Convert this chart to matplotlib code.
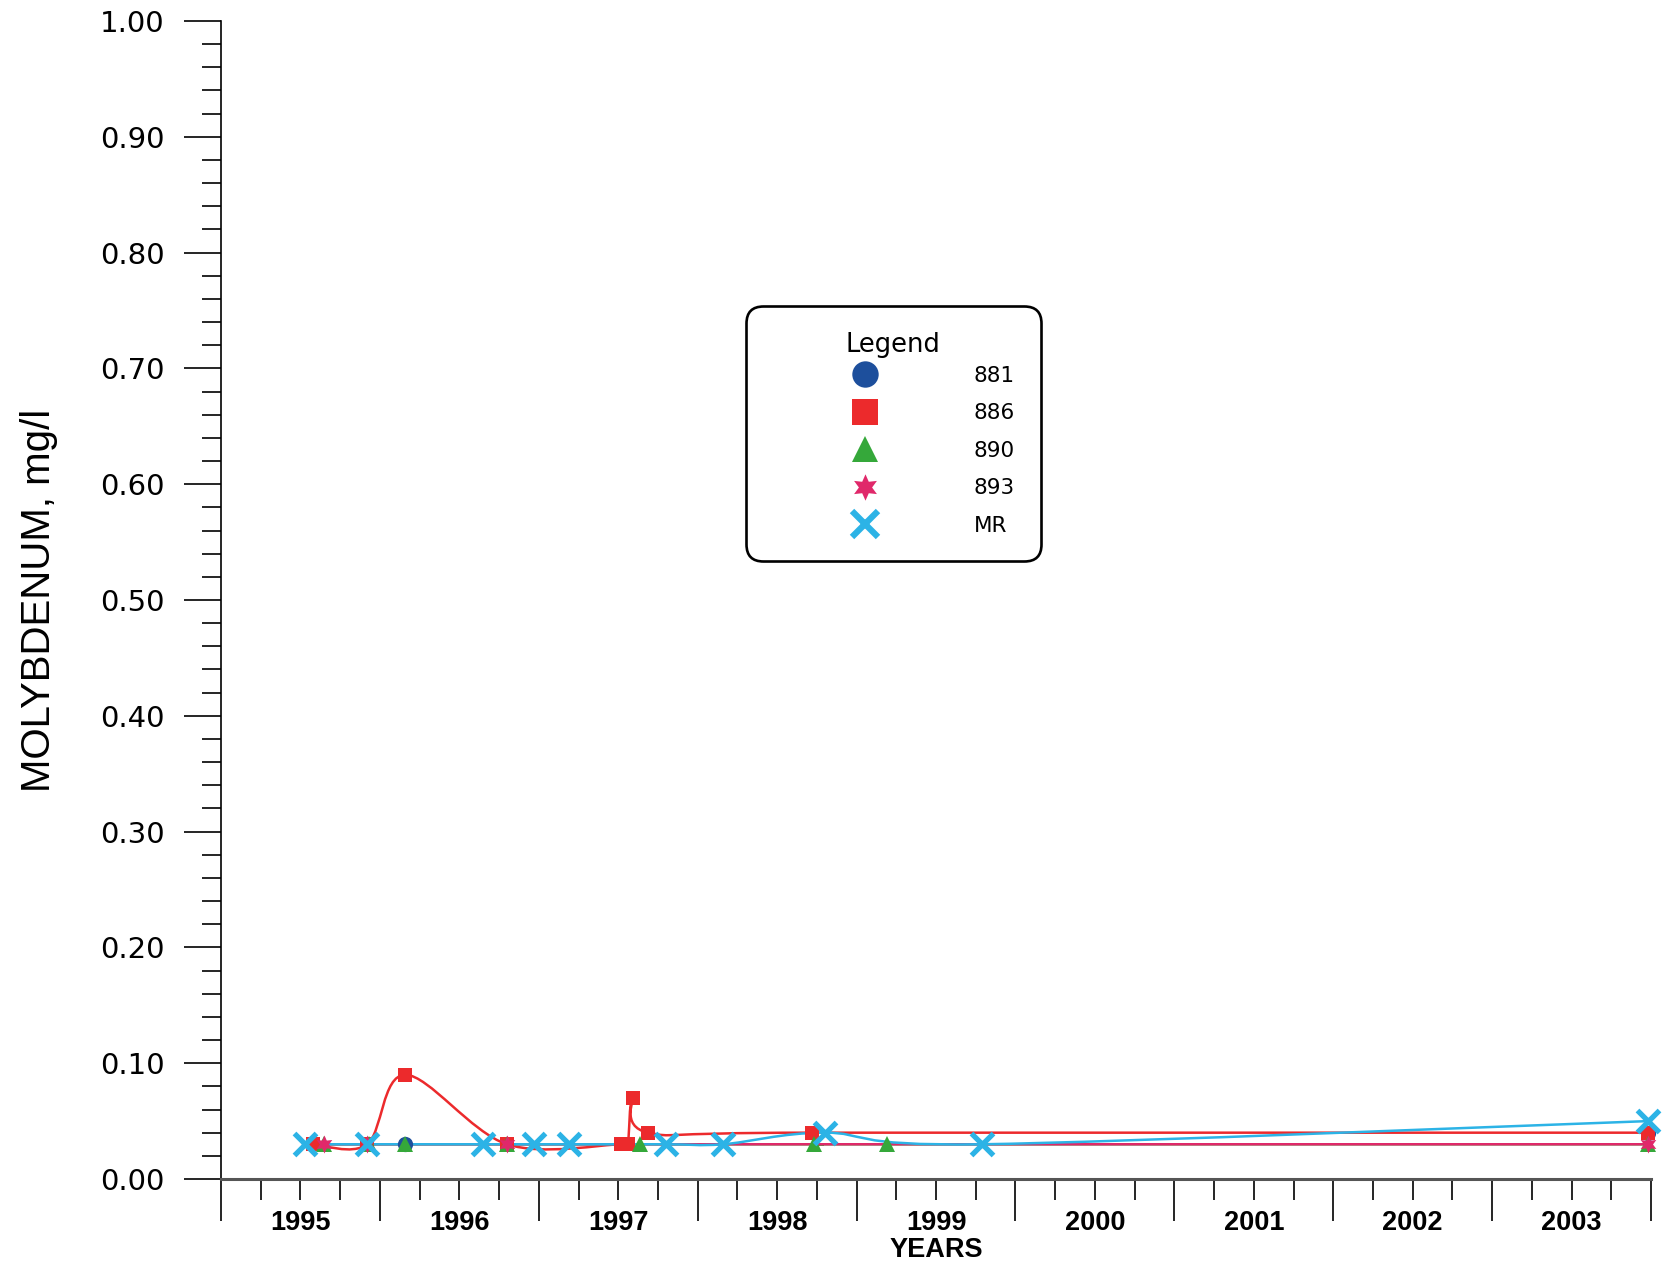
import numpy as np
import matplotlib
matplotlib.use("Agg")
import matplotlib.pyplot as plt
from matplotlib.path import Path
from matplotlib.patches import PathPatch
from matplotlib.lines import Line2D
from matplotlib.ticker import MultipleLocator, FuncFormatter, NullFormatter

# sample dates in decimal years, molybdenum in mg/l
x_881 = [1996.16, 2003.98]
y_881 = [0.03, 0.04]

x_886 = [1995.58, 1995.92, 1996.16, 1996.80, 1997.52, 1997.56, 1997.59, 1997.69, 1998.72, 2003.98]
y_886 = [0.03, 0.03, 0.09, 0.03, 0.03, 0.03, 0.07, 0.04, 0.04, 0.04]

x_890 = [1995.65, 1995.93, 1996.16, 1996.80, 1997.64, 1998.73, 1999.19, 2003.98]
y_890 = [0.03, 0.03, 0.03, 0.03, 0.03, 0.03, 0.03, 0.03]

x_893 = [1995.65, 1995.92, 1996.80, 2003.98]
y_893 = [0.03, 0.03, 0.03, 0.03]

x_mr = [1995.53, 1995.92, 1996.65, 1996.97, 1997.19, 1997.80, 1998.16, 1998.80, 1999.79, 2003.98]
y_mr = [0.03, 0.03, 0.03, 0.03, 0.03, 0.03, 0.03, 0.04, 0.03, 0.05]

# name, x, y, marker, colour, marker size, edge width, draw line
series = [
    ("881", x_881, y_881, "o", "#1d4f9c", 11, 0, False),
    ("886", x_886, y_886, "s", "#ec2a2c", 10.5, 0, True),
    ("890", x_890, y_890, "^", "#35a83a", 12, 0, True),
    ("893", x_893, y_893, (6, 1, 0), "#e0286a", 13, 0, True),
    ("MR", x_mr, y_mr, "x", "#2cb3e6", 16, 3.8, True),
]


def smooth_path(x, y):
    # smoothed line (Catmull-Rom as bezier segments)
    pts = np.column_stack([x, y]).astype(float)
    n = len(pts)
    verts = [pts[0]]
    codes = [Path.MOVETO]
    for i in range(n - 1):
        p0 = pts[i - 1] if i > 0 else pts[i]
        p1 = pts[i]
        p2 = pts[i + 1]
        p3 = pts[i + 2] if i + 2 < n else pts[i + 1]
        verts += [p1 + (p2 - p0) / 6, p2 - (p3 - p1) / 6, p2]
        codes += [Path.CURVE4] * 3
    return Path(verts, codes)


sans = ["Liberation Sans", "DejaVu Sans"]

fig = plt.figure(figsize=(16.65, 12.73), dpi=100)
ax = fig.add_axes([221 / 1665, 1 - 1179 / 1273, 1430 / 1665, 1158 / 1273])

handles = []
for name, xs, ys, mk, color, ms, mew, line in series:
    if line:
        ax.add_patch(PathPatch(smooth_path(xs, ys), facecolor="none",
                               edgecolor=color, linewidth=1.8))
    if mk == "x":
        ax.plot(xs, ys, linestyle="none", marker=mk, color=color,
                markersize=ms, markeredgewidth=mew, clip_on=False)
        h = Line2D([], [], linestyle="none", marker=mk, color=color,
                   markersize=19, markeredgewidth=4.5)
    else:
        ax.plot(xs, ys, linestyle="none", marker=mk, color=color,
                markersize=ms, markeredgewidth=0, clip_on=False)
        h = Line2D([], [], linestyle="none", marker=mk, color=color,
                   markersize=19, markeredgewidth=0)
    handles.append(h)

ax.set_xlim(1995.0, 2004.0)
ax.set_ylim(0.0, 1.0)

ax.yaxis.set_major_locator(MultipleLocator(0.1))
ax.yaxis.set_minor_locator(MultipleLocator(0.02))
ax.yaxis.set_major_formatter(FuncFormatter(lambda v, p: f"{v:.2f}"))
ax.tick_params(axis="y", which="major", length=26.6, width=1.2, pad=14,
               labelsize=21, direction="out")
ax.tick_params(axis="y", which="minor", length=13.7, width=1.2,
               direction="out")

ax.xaxis.set_major_locator(MultipleLocator(1))
ax.xaxis.set_minor_locator(MultipleLocator(0.25))
ax.xaxis.set_major_formatter(NullFormatter())
ax.xaxis.set_minor_formatter(FuncFormatter(
    lambda v, p: f"{int(v)}" if abs(v - int(v) - 0.5) < 1e-6 else ""))
ax.tick_params(axis="x", which="major", length=30, width=1.2,
               direction="out")
ax.tick_params(axis="x", which="minor", length=15, width=1.2, pad=7,
               direction="out")
for lab in ax.xaxis.get_minorticklabels():
    lab.set_family(sans)
    lab.set_fontweight("bold")
    lab.set_fontsize(19.5)

for s in ["top", "right"]:
    ax.spines[s].set_visible(False)
ax.spines["left"].set_linewidth(1.2)
ax.spines["bottom"].set_linewidth(2.2)
ax.spines["bottom"].set_color("#555555")

ax.set_xlabel("YEARS", family=sans, fontweight="bold", fontsize=19.5,
              labelpad=1)
ax.set_ylabel("MOLYBDENUM, mg/l", family=sans, fontsize=29)
ax.yaxis.set_label_coords(-0.114, 0.5)

leg = ax.legend(handles, [s[0] for s in series], title="Legend",
                loc="upper left", bbox_to_anchor=(0.367, 0.7539),
                prop={"size": 15.5}, title_fontsize=18.5,
                borderpad=1.2, handlelength=8.65,
                handletextpad=0.74, labelspacing=0.81,
                frameon=True, fancybox=True, framealpha=1,
                borderaxespad=0)
# tighter gap between the title and the first entry
leg._legend_box.sep = 5.8
frame = leg.get_frame()
frame.set_edgecolor("black")
frame.set_linewidth(1.9)
frame.set_boxstyle("round", pad=0, rounding_size=0.8)

fig.savefig("out.png", dpi=100, facecolor="white")
